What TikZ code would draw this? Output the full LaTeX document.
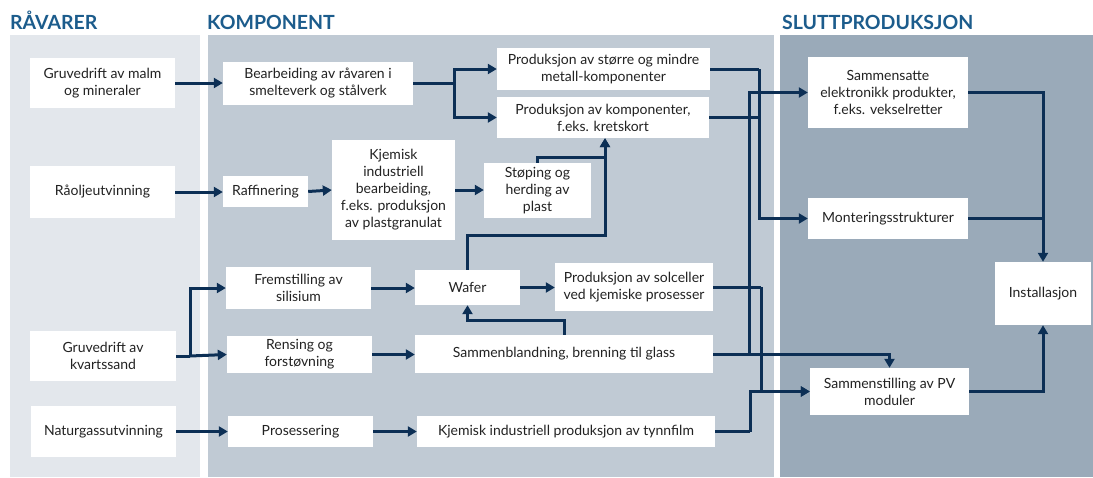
\documentclass[tikz,border=0pt]{standalone}
\usepackage{fontspec}
\setmainfont{Lato}
\usetikzlibrary{arrows.meta}
\definecolor{pone}{HTML}{E3E7EC}
\definecolor{ptwo}{HTML}{C0CAD4}
\definecolor{pthree}{HTML}{9AAAB9}
\definecolor{navy}{HTML}{0C2F55}
\definecolor{hdr}{HTML}{1C5C8C}
\definecolor{txt}{HTML}{222222}
\begin{document}
\begin{tikzpicture}[x=1pt,y=-1pt,
  box/.style={fill=white,draw=none,inner sep=0pt,align=center,text=txt,
    font=\fontsize{14}{17}\selectfont},
  conn/.style={draw=navy,line width=3pt,-{Triangle[length=9pt,width=10pt]}},
  plain/.style={draw=navy,line width=3pt},
  hdrstyle/.style={anchor=base west,inner sep=0pt,text=hdr,
    font=\fontsize{19.5}{22}\selectfont\bfseries}]
\useasboundingbox (0,0) rectangle (1093,477);
\fill[white] (0,0) rectangle (1093,477);
% panels
\fill[pone] (10,35) rectangle (200,477);
\fill[ptwo] (208,35) rectangle (774,477);
\fill[pthree] (780,35) rectangle (1093,477);
% headers
\node[hdrstyle] (h1) at (10,29) {RÅVARER};
\node[hdrstyle] (h2) at (207,29) {KOMPONENT};
\node[hdrstyle] (h3) at (782,29) {SLUTTPRODUKSJON};
% raw materials
\node[box,minimum width=145,minimum height=50] (n1) at (102.5,83) {Gruvedrift av malm\\og mineraler};
\node[box,minimum width=145,minimum height=52] (n2) at (102.5,192) {Råoljeutvinning};
\node[box,minimum width=146,minimum height=50] (n3) at (103,356) {Gruvedrift av\\kvartssand};
\node[box,minimum width=145,minimum height=51] (n4) at (103.5,431.5) {Naturgassutvinning};
% components
\node[box,minimum width=190,minimum height=43] (n5) at (318,83.5) {Bearbeiding av råvaren i\\smelteverk og stålverk};
\node[box,minimum width=85,minimum height=31] (n6) at (265.5,191.5) {Raffinering};
\node[box,minimum width=123,minimum height=100] (n7) at (393.5,190) {Kjemisk\\industriell\\bearbeiding,\\f.eks. produksjon\\av plastgranulat};
\node[box,minimum width=107,minimum height=55] (n8) at (537.5,190.5) {Støping og\\herding av\\plast};
\node[box,minimum width=213,minimum height=42] (n9) at (603.5,69) {Produksjon av større og mindre\\metall-komponenter};
\node[box,minimum width=212,minimum height=41] (n10) at (603,117.5) {Produksjon av komponenter,\\f.eks. kretskort};
\node[box,minimum width=145,minimum height=42] (n11) at (298.5,288) {Fremstilling av\\silisium};
\node[box,minimum width=145,minimum height=37] (n12) at (299.5,354.5) {Rensing og\\forstøvning};
\node[box,minimum width=145,minimum height=31] (n13) at (300.5,431.5) {Prosessering};
\node[box,minimum width=105,minimum height=35] (n14) at (467.5,287.5) {Wafer};
\node[box,minimum width=158,minimum height=48] (n15) at (634,287) {Produksjon av solceller\\ved kjemiske prosesser};
\node[box,minimum width=298,minimum height=38] (n16) at (564,354) {Sammenblandning, brenning til glass};
\node[box,minimum width=298,minimum height=31] (n17) at (566,431.5) {Kjemisk industriell produksjon av tynnfilm};
% final production
\node[box,minimum width=160,minimum height=71] (n18) at (888,92.5) {Sammensatte\\elektronikk produkter,\\f.eks. vekselretter};
\node[box,minimum width=160,minimum height=41] (n19) at (888,218.5) {Monteringsstrukturer};
\node[box,minimum width=159,minimum height=47] (n20) at (889.5,391.5) {Sammenstilling av PV\\moduler};
\node[box,minimum width=96,minimum height=63] (n21) at (1043,293.5) {Installasjon};
% junction coordinates
\coordinate (s1) at (454,83.5);
\coordinate (s2) at (190,356);
\coordinate (j1) at (759,69);
\coordinate (j2) at (761,287);
\coordinate (j3) at (750,431.5);
\coordinate (j4) at (749,354);
% connectors
\draw[conn] (n1.east) -- (n1.east -| n5.west);
\draw[plain] (n5.east) -- (s1);
\draw[conn] (s1) |- (n9.west);
\draw[conn] (s1) |- (n10.west);
\draw[conn] (n2.east) -- (n2.east -| n6.west);
\draw[conn] (n6.east) -- (n7.west);
\draw[conn] (n7.east) -- (n7.east -| n8.west);
\draw[conn] (n8.north) -- ++(0,-5) -| ([xshift=2pt]n10.south);
\draw[conn] (n14.north) -- (467.5,235) -| ([xshift=2pt]n10.south);
\draw[plain] (n3.east) -- (s2);
\draw[conn] (s2) |- (n11.west);
\draw[conn] (s2) -- (n12.west);
\draw[conn] (n11.east) -- (n11.east -| n14.west);
\draw[conn] (n12.east) -- (n12.east -| n16.west);
\draw[conn] (n4.east) -- (n4.east -| n13.west);
\draw[conn] (n13.east) -- (n13.east -| n17.west);
\draw[conn] (n14.east) -- (n14.east -| n15.west);
\draw[conn] (n16.north) -- (564,320) -| (n14.south);
\draw[plain] (n9.east) -- (j1);
\draw[conn] (j1) |- (n19.west);
\draw[plain] (n10.east) -- (n10.east -| j1);
\draw[plain] (n15.east) -- (j2);
\draw[conn] (j2) |- (n20.west);
\draw[plain] (n17.east) -- (j3);
\draw[conn] (j3) |- (n20.west);
\draw[conn] (n16.east) -| (n20.north);
\draw[conn] (j4) |- (n18.west);
\draw[conn] (n18.east) -| (n21.north);
\draw[plain] (n19.east) -- (n19.east -| n21.north);
\draw[conn] (n20.east) -| (n21.south);
\end{tikzpicture}
\end{document}
